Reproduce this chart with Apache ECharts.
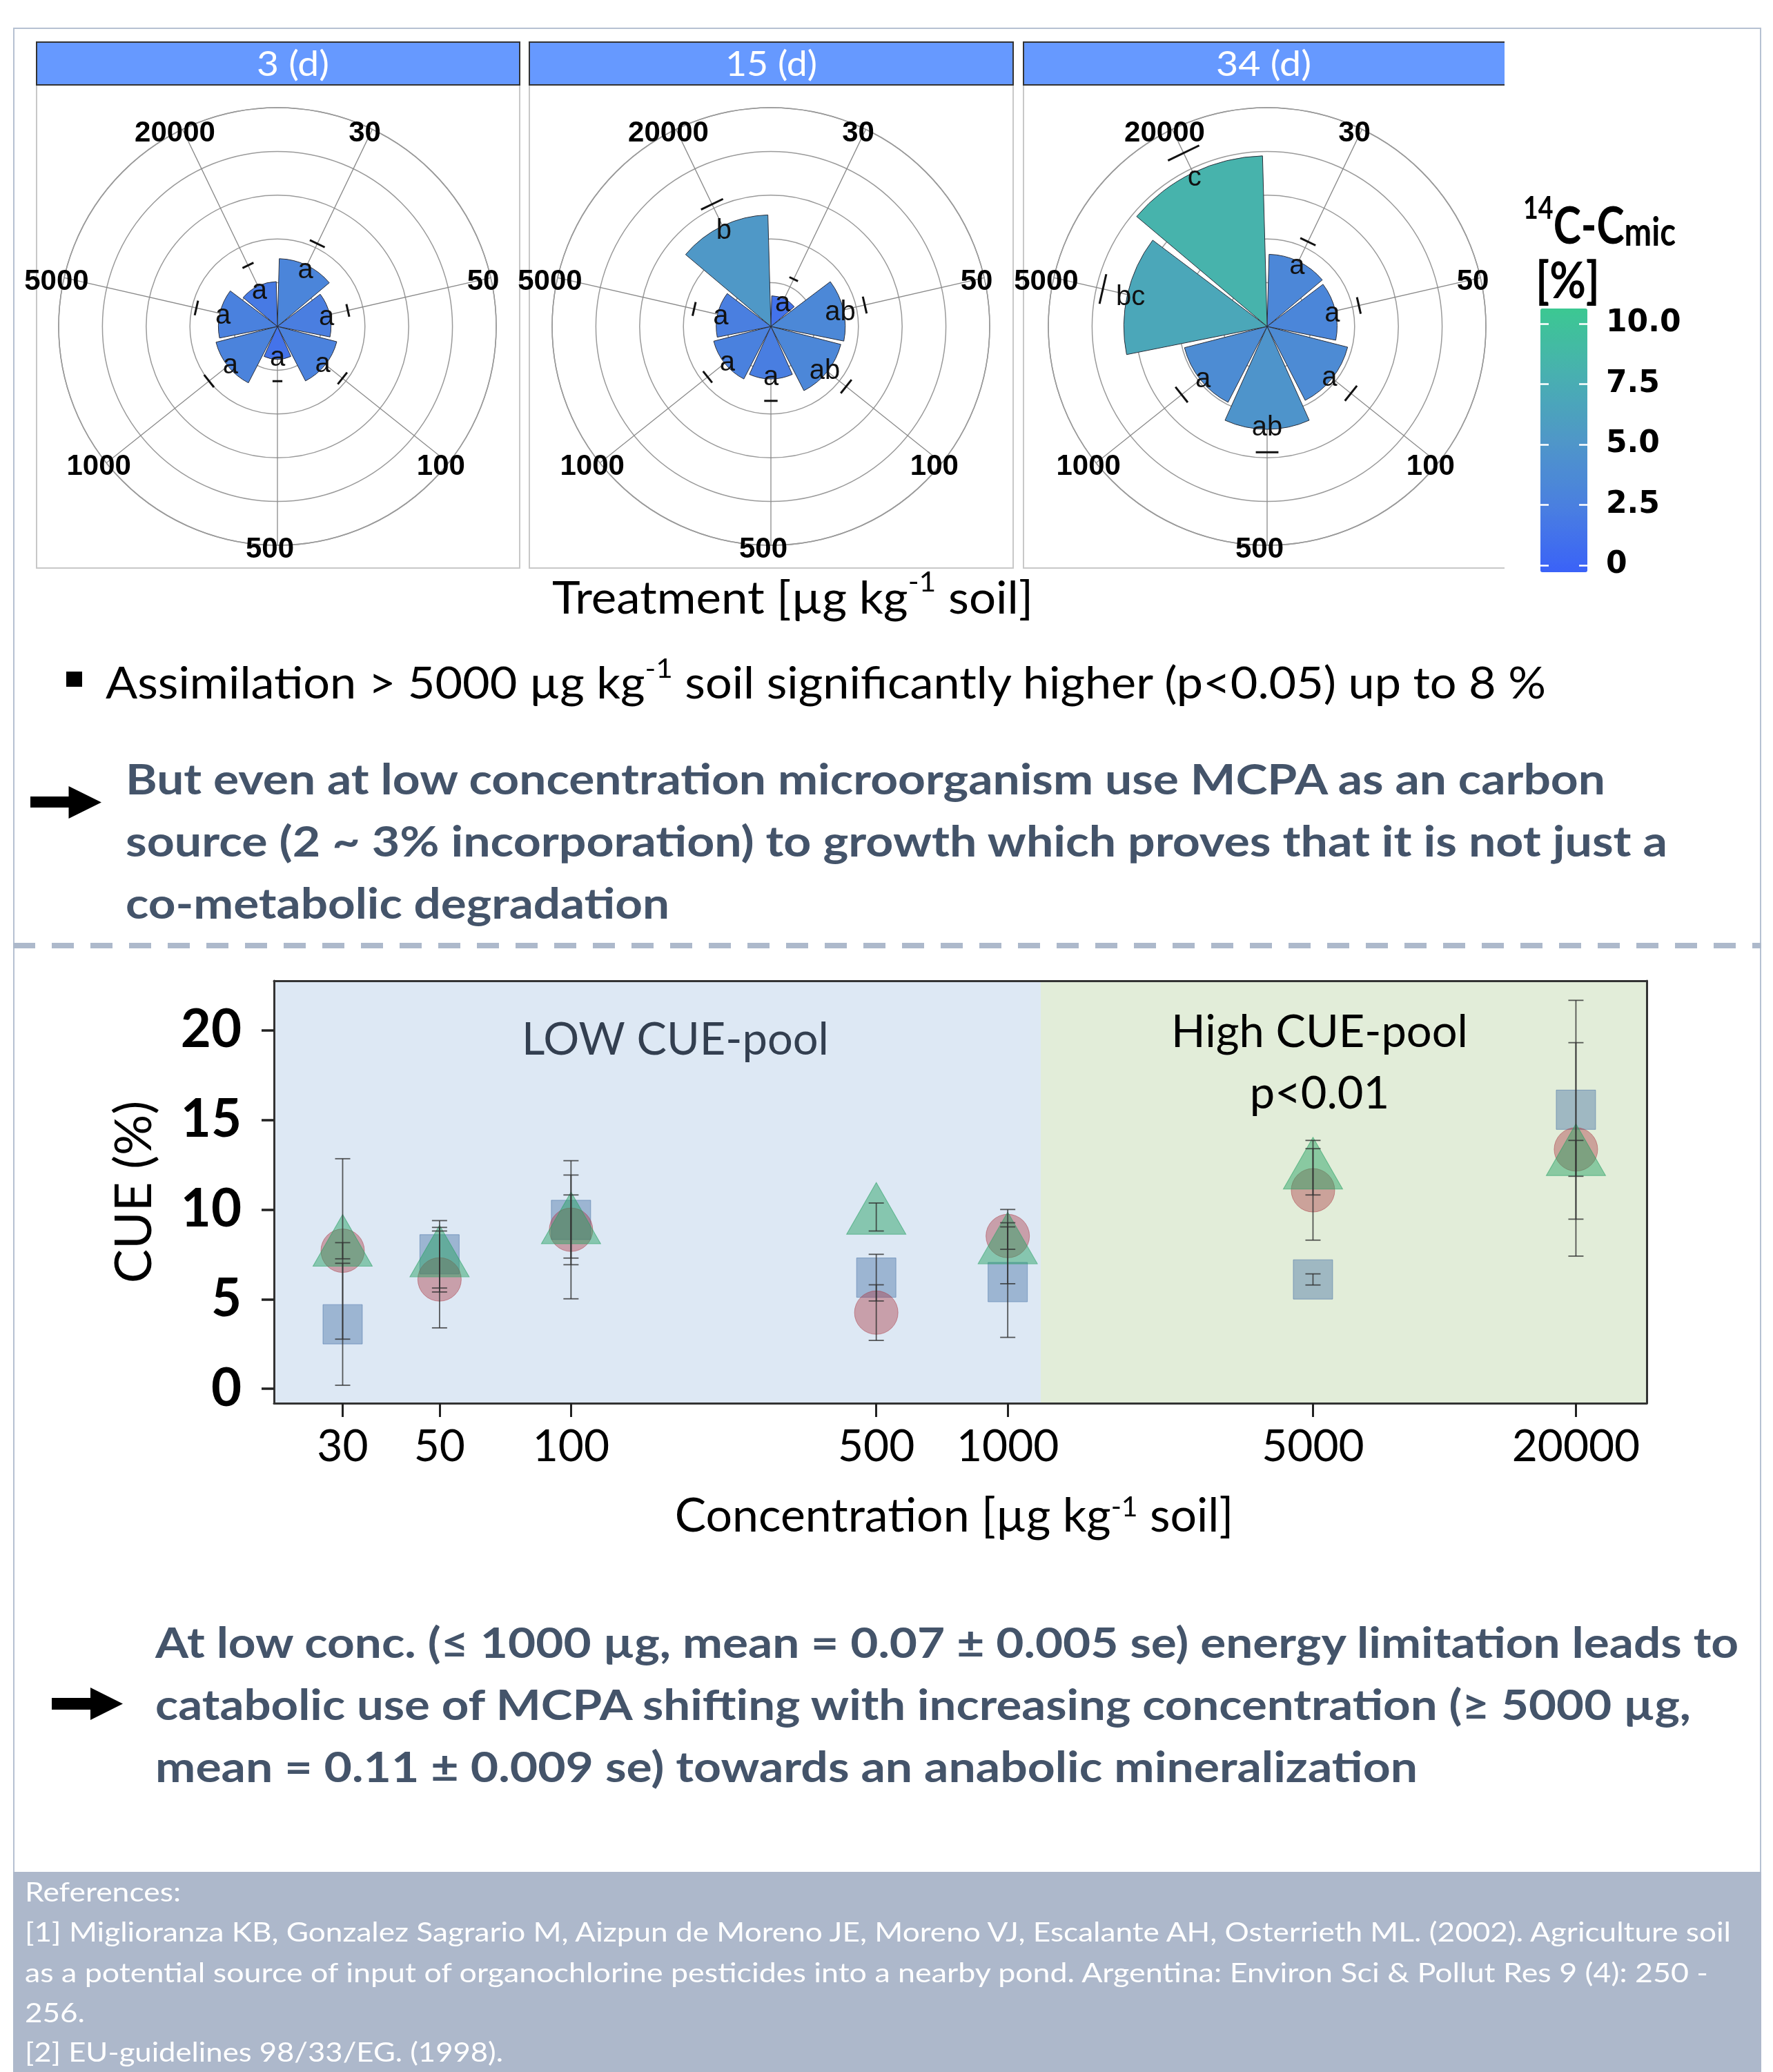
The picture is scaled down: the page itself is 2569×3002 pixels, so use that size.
<!DOCTYPE html>
<html>
<head>
<meta charset="utf-8">
<title>MCPA assimilation and CUE</title>
<script src="https://cdn.jsdelivr.net/npm/echarts@6/dist/echarts.min.js"></script>
<style>
html, body { margin: 0; padding: 0; background: #fff; }
body { width: 2569px; height: 3002px; position: relative; overflow: hidden; font-family: Lato, sans-serif; }
.box { position: absolute; box-sizing: border-box; z-index: 1; }
.t { position: absolute; left: 0; top: 0; white-space: nowrap; line-height: 1; transform-origin: 0 0; z-index: 3; }
.t sup { font-size: 0.62em; position: relative; top: -0.78em; vertical-align: baseline; line-height: 0; }
.para { font-weight: bold; font-size: 62px; color: #44546a; }
.ref { font-size: 38px; color: #fff; }
.head { font-size: 50px; color: #fff; }
#chart { position: absolute; left: 0; top: 0; width: 2569px; height: 3002px; z-index: 2; }
#shapes { position: absolute; left: 0; top: 0; z-index: 3; }
</style>
</head>
<body>
<!-- poster frame, separator, reference box -->
<div class="box" style="left:19px;top:40px;width:2533px;height:2673px;border:2px solid #b6c1d2;border-bottom:none;"></div>
<div class="box" style="left:19px;top:1366px;width:2533px;height:8px;background:repeating-linear-gradient(to right,#adb9cb 0,#adb9cb 32px,transparent 32px,transparent 56px);"></div>
<div class="box" style="left:19px;top:2712px;width:2533px;height:290px;background:#adb8cb;"></div>

<!-- facet boxes and strips -->
<div class="box" style="left:52px;top:122px;width:702px;height:702px;border:2px solid #c8c8c8;border-top:none;"></div>
<div class="box" style="left:766px;top:122px;width:703px;height:702px;border:2px solid #c8c8c8;border-top:none;"></div>
<div class="box" style="left:1482px;top:122px;width:698px;height:702px;border:2px solid #c8c8c8;border-top:none;border-right:none;"></div>
<div class="box" style="left:52px;top:60px;width:702px;height:64px;background:#6699ff;border:2px solid #333;"></div>
<div class="box" style="left:766px;top:60px;width:703px;height:64px;background:#6699ff;border:2px solid #333;"></div>
<div class="box" style="left:1482px;top:60px;width:698px;height:64px;background:#6699ff;border:2px solid #333;border-right:none;"></div>

<div id="chart"></div>

<svg id="shapes" width="2569" height="3002">
  <rect x="96" y="973" width="23" height="22" fill="#000"/>
  <polygon points="44,1154 99.5,1154 99.5,1139 147,1162.5 99.5,1186 99.5,1170 44,1170" fill="#000"/>
  <polygon points="75,2460 131,2460 131,2445 178,2468.5 131,2492 131,2477 75,2477" fill="#000"/>
</svg>

<div class="t head" data-cx="424" data-b="110" data-w="105">3 (d)</div>
<div class="t head" data-cx="1117" data-b="110" data-w="133">15 (d)</div>
<div class="t head" data-cx="1831" data-b="110" data-w="138">34 (d)</div>

<div class="t" data-x="2207" data-b="353" data-w="221" style="font-weight:bold;font-size:74px;color:#000;"><sup>14</sup>C-C<span style="font-size:0.78em;position:relative;top:0.05em;">mic</span></div>
<div class="t" data-x="2225" data-b="432" data-w="93" style="font-weight:bold;font-size:72px;color:#000;">[%]</div>

<div class="t" data-cx="1148" data-b="889" data-w="697" style="font-size:66px;color:#000;">Treatment [µg kg<sup>-1</sup> soil]</div>

<div class="t" data-x="153" data-b="1012" data-w="2087" style="font-size:63px;color:#000;">Assimilation &gt; 5000 µg kg<sup>-1</sup> soil significantly higher (p&lt;0.05) up to 8 %</div>

<div class="t para" data-x="182" data-b="1151" data-w="2144">But even at low concentration microorganism use MCPA as an carbon</div>
<div class="t para" data-x="182" data-b="1241" data-w="2234">source (2 ~ 3% incorporation) to growth which proves that it is not just a</div>
<div class="t para" data-x="182" data-b="1331" data-w="788">co-metabolic degradation</div>

<div class="t para" data-x="225" data-b="2402" data-w="2294">At low conc. (≤ 1000 µg, mean = 0.07 ± 0.005 se) energy limitation leads to</div>
<div class="t para" data-x="225" data-b="2492" data-w="2225">catabolic use of MCPA shifting with increasing concentration (≥ 5000 µg,</div>
<div class="t para" data-x="225" data-b="2582" data-w="1829">mean = 0.11 ± 0.009 se) towards an anabolic mineralization</div>

<div class="t ref" data-x="36" data-b="2755" data-w="226">References:</div>
<div class="t ref" data-x="36" data-b="2813" data-w="2472">[1] Miglioranza KB, Gonzalez Sagrario M, Aizpun de Moreno JE, Moreno VJ, Escalante AH, Osterrieth ML. (2002). Agriculture soil</div>
<div class="t ref" data-x="36" data-b="2872" data-w="2439">as a potential source of input of organochlorine pesticides into a nearby pond. Argentina: Environ Sci &amp; Pollut Res 9 (4): 250 -</div>
<div class="t ref" data-x="36" data-b="2930" data-w="87">256.</div>
<div class="t ref" data-x="36" data-b="2987" data-w="693">[2] EU-guidelines 98/33/EG. (1998).</div>

<script>
// treatments (µg kg-1 soil)
var concLabels = ['30', '50', '100', '500', '1000', '5000', '20000'];
var conc = [30, 50, 100, 500, 1000, 5000, 20000];

// 14C-Cmic [%] per incubation day, with se and significance letters
var cmicDay3 = [3.1, 2.45, 2.8, 1.5, 2.9, 2.7, 2.05];
var cmicDay3Se = [1.1, 0.85, 1.0, 1.0, 1.1, 1.1, 1.05];
var groupsDay3 = ['a', 'a', 'a', 'a', 'a', 'a', 'a'];
var cmicDay15 = [1.4, 3.4, 3.3, 2.4, 2.7, 2.5, 5.1];
var cmicDay15Se = [1.0, 1.0, 1.1, 1.0, 1.0, 1.1, 1.1];
var groupsDay15 = ['a', 'ab', 'ab', 'a', 'a', 'a', 'b'];
var cmicDay34 = [3.3, 3.2, 3.8, 4.7, 3.9, 6.55, 7.8];
var cmicDay34Se = [1.0, 1.1, 1.1, 1.05, 1.1, 1.15, 1.0];
var groupsDay34 = ['a', 'a', 'a', 'ab', 'a', 'bc', 'c'];
var colorTicks = [0, 2.5, 5, 7.5, 10];

// CUE (%) per concentration, three markers with se
var cueSquare = [3.6, 7.5, 9.42, 6.2, 5.95, 6.1, 15.56];
var cueSquareSe = [3.4, 1.88, 2.5, 1.3, 3.08, 0.31, 6.1];
var cueCircle = [7.7, 6.1, 8.87, 4.25, 8.52, 11.07, 13.35];
var cueCircleSe = [0.45, 2.7, 3.85, 1.55, 0.74, 2.78, 5.95];
var cueTriangle = [7.8, 7.2, 9.05, 9.58, 7.93, 12.1, 12.85];
var cueTriangleSe = [5.03, 1.8, 1.76, 0.78, 2.07, 1.29, 1.0];
var cueTicks = [0, 5, 10, 15, 20];
var poolSplit = 1190;

var polarX = [402, 1117, 1836];
var xMin = 1.3199, xMax = 4.4631;

var panels = [
	{ vals : cmicDay3, se : cmicDay3Se, grp : groupsDay3 },
	{ vals : cmicDay15, se : cmicDay15Se, grp : groupsDay15 },
	{ vals : cmicDay34, se : cmicDay34Se, grp : groupsDay34 }
];

var series = [];
panels.forEach(function(p, k) {
	series.push({
		type : 'bar',
		coordinateSystem : 'polar',
		polarIndex : k,
		data : p.vals.map(function(v, i) { return [ v, i ]; }),
		barCategoryGap : '6%',
		itemStyle : { borderColor : '#2b2f3a', borderWidth : 1 },
		z : 2
	});
});
panels.forEach(function(p, k) {
	// spokes under the bars
	series.push({
		type : 'custom',
		coordinateSystem : 'polar',
		polarIndex : k,
		silent : true,
		z : 1,
		data : concLabels.map(function(c, i) { return [ 10, i ]; }),
		renderItem : function(params, api) {
			var c = api.coord([ 0, api.value(1) ]);
			var e = api.coord([ api.value(0), api.value(1) ]);
			return {
				type : 'line',
				shape : { x1 : c[0], y1 : c[1], x2 : e[0], y2 : e[1] },
				style : { stroke : '#8a8a8a', lineWidth : 1.3 }
			};
		}
	});
	// error caps, letters and treatment labels
	series.push({
		type : 'custom',
		coordinateSystem : 'polar',
		polarIndex : k,
		silent : true,
		z : 3,
		data : p.vals.map(function(v, i) { return [ v + p.se[i], i, v ]; }),
		renderItem : function(params, api) {
			var i = api.value(1);
			var c = api.coord([ 0, i ]);
			var top = api.coord([ api.value(0), i ]);
			var mid = api.coord([ api.value(2) - 0.15, i ]);
			var lab = api.coord([ 10, i ]);
			var dx = top[0] - c[0], dy = top[1] - c[1];
			var nx = -dy * 0.09, ny = dx * 0.09;
			return {
				type : 'group',
				children : [ {
					type : 'line',
					shape : { x1 : top[0] - nx, y1 : top[1] - ny, x2 : top[0] + nx, y2 : top[1] + ny },
					style : { stroke : '#111', lineWidth : 3 }
				}, {
					type : 'text',
					style : {
						text : p.grp[params.dataIndex], x : mid[0], y : mid[1] + 3,
						align : 'center', verticalAlign : 'middle',
						fontFamily : 'Liberation Sans', fontSize : 40, fill : '#111'
					}
				}, {
					type : 'text',
					style : {
						text : concLabels[i], x : lab[0] - 11, y : lab[1] + 6,
						align : 'center', verticalAlign : 'middle',
						fontFamily : 'Liberation Sans', fontWeight : 'bold', fontSize : 42, fill : '#000'
					}
				} ]
			};
		}
	});
});

function logPts(vals) {
	return conc.map(function(c, i) { return [ Math.log10(c), vals[i] ]; });
}
function errPts(vals, se) {
	return conc.map(function(c, i) { return [ Math.log10(c), vals[i], se[i] ]; });
}
function renderErr(params, api) {
	var x = api.value(0), m = api.value(1), s = api.value(2);
	var lo = api.coord([ x, m - s ]), hi = api.coord([ x, m + s ]);
	var w = 11;
	var st = { stroke : 'rgba(50,50,50,0.8)', lineWidth : 1.8 };
	return {
		type : 'group',
		children : [
			{ type : 'line', shape : { x1 : lo[0], y1 : lo[1], x2 : hi[0], y2 : hi[1] }, style : st },
			{ type : 'line', shape : { x1 : lo[0] - w, y1 : lo[1], x2 : lo[0] + w, y2 : lo[1] }, style : st },
			{ type : 'line', shape : { x1 : hi[0] - w, y1 : hi[1], x2 : hi[0] + w, y2 : hi[1] }, style : st }
		]
	};
}

series.push({
	type : 'scatter',
	symbol : 'rect',
	symbolSize : 57,
	data : logPts(cueSquare),
	itemStyle : { color : 'rgba(60,105,160,0.5)', borderColor : 'rgba(60,105,160,0.6)', borderWidth : 1 },
	markArea : {
		silent : true,
		data : [ [ {
			name : 'LOW CUE-pool',
			xAxis : xMin,
			itemStyle : { color : '#dde8f4', opacity : 1 },
			label : {
				position : 'insideTop', distance : 54, offset : [ 26, 0 ],
				fontFamily : 'Lato', fontSize : 65, color : '#333f50'
			}
		}, { xAxis : Math.log10(poolSplit) } ], [ {
			name : 'High CUE-pool\np<0.01',
			xAxis : Math.log10(poolSplit),
			itemStyle : { color : '#e2edd9', opacity : 1 },
			label : {
				position : 'insideTop', distance : 31, offset : [ -35, 0 ],
				fontFamily : 'Lato', fontSize : 65, lineHeight : 89, color : '#000'
			}
		}, { xAxis : xMax } ] ]
	}
});
series.push({
	type : 'scatter',
	symbol : 'circle',
	symbolSize : 63,
	data : logPts(cueCircle),
	itemStyle : { color : 'rgba(170,50,60,0.5)', borderColor : 'rgba(170,50,60,0.6)', borderWidth : 1 }
});
series.push({
	type : 'scatter',
	symbol : 'triangle',
	symbolSize : [ 86, 75 ],
	symbolOffset : [ 0, -12.5 ],
	data : logPts(cueTriangle),
	itemStyle : { color : 'rgba(40,160,100,0.6)', borderColor : 'rgba(40,160,100,0.7)', borderWidth : 1 }
});
[ [ cueSquare, cueSquareSe ], [ cueCircle, cueCircleSe ], [ cueTriangle, cueTriangleSe ] ].forEach(function(s) {
	series.push({
		type : 'custom',
		silent : true,
		z : 4,
		data : errPts(s[0], s[1]),
		renderItem : renderErr
	});
});

var logConc = conc.map(function(c) { return Math.log10(c); });
var frame = { show : true, onZero : false, lineStyle : { color : '#333', width : 3 } };

var myChart = echarts.init(document.getElementById('chart'));
var option = {
	animation : false,
	textStyle : { fontFamily : 'Lato' },
	polar : polarX.map(function(x) {
		return { center : [ x, 473 ], radius : 317 };
	}),
	angleAxis : polarX.map(function(x, k) {
		return {
			polarIndex : k,
			type : 'category',
			data : concLabels,
			startAngle : 90,
			clockwise : true,
			axisLine : { show : true, lineStyle : { color : '#9a9a9a', width : 1.5 } },
			axisTick : { show : false },
			axisLabel : { show : false },
			splitLine : { show : false }
		};
	}),
	radiusAxis : polarX.map(function(x, k) {
		return {
			polarIndex : k,
			type : 'value',
			min : 0,
			max : 10,
			interval : 2,
			axisLine : { show : false },
			axisTick : { show : false },
			axisLabel : { show : false },
			splitLine : { show : true, lineStyle : { color : '#9a9a9a', width : 1.5 } }
		};
	}),
	visualMap : {
		type : 'continuous',
		seriesIndex : [ 0, 1, 2 ],
		dimension : 0,
		min : 0,
		max : 10,
		calculable : false,
		padding : 0,
		left : 2232,
		top : 447,
		itemWidth : 68,
		itemHeight : 382,
		inRange : { color : [ '#3a62f8', '#4a7fe0', '#4f97c8', '#48b0b0', '#3cc892' ] }
	},
	grid : [
		{ left : 397, top : 1421, width : 1989, height : 612 },
		{ left : 2232, top : 469, width : 68, height : 350 }
	],
	xAxis : [ {
		gridIndex : 0,
		type : 'value',
		min : xMin,
		max : xMax,
		axisLine : frame,
		axisTick : { show : true, customValues : logConc, length : 20, lineStyle : { color : '#222', width : 3 } },
		axisLabel : {
			customValues : logConc,
			formatter : function(v) { return String(Math.round(Math.pow(10, v))); },
			margin : 31, fontSize : 64, color : '#000', fontFamily : 'Lato'
		},
		splitLine : { show : false },
		name : 'Concentration [µg kg{sup|-1} soil]',
		nameLocation : 'middle',
		nameGap : 130,
		nameTextStyle : {
			fontSize : 68, color : '#000', fontFamily : 'Lato',
			padding : [ 0, 18, 0, 0 ],
			rich : { sup : { fontSize : 41, verticalAlign : 'top', color : '#000', fontFamily : 'Lato' } }
		},
		z : 5
	}, {
		gridIndex : 0,
		type : 'value',
		position : 'top',
		min : xMin,
		max : xMax,
		axisLine : frame,
		axisTick : { show : false },
		axisLabel : { show : false },
		splitLine : { show : false },
		z : 5
	}, {
		gridIndex : 1,
		type : 'value',
		show : false,
		min : 0,
		max : 1
	} ],
	yAxis : [ {
		gridIndex : 0,
		type : 'value',
		min : -0.8,
		max : 22.75,
		axisLine : frame,
		axisTick : { show : true, customValues : cueTicks, length : 18, lineStyle : { color : '#222', width : 3.5 } },
		axisLabel : {
			customValues : cueTicks,
			margin : 47, fontSize : 76, fontWeight : 'bold', color : '#000', fontFamily : 'Lato'
		},
		splitLine : { show : false },
		name : 'CUE (%)',
		nameLocation : 'middle',
		nameGap : 165,
		nameRotate : 90,
		nameTextStyle : { fontSize : 74, color : '#000', fontFamily : 'Lato' },
		z : 5
	}, {
		gridIndex : 0,
		type : 'value',
		position : 'right',
		min : -0.8,
		max : 22.75,
		axisLine : frame,
		axisTick : { show : false },
		axisLabel : { show : false },
		splitLine : { show : false },
		z : 5
	}, {
		gridIndex : 1,
		type : 'value',
		position : 'left',
		min : 0,
		max : 10,
		axisLine : { show : false },
		axisTick : { show : true, inside : true, customValues : colorTicks, length : 12, lineStyle : { color : '#fff', width : 2.5 } },
		axisLabel : { show : false },
		splitLine : { show : false },
		z : 10
	}, {
		gridIndex : 1,
		type : 'value',
		position : 'right',
		min : 0,
		max : 10,
		axisLine : { show : false },
		axisTick : { show : true, inside : true, customValues : colorTicks, length : 12, lineStyle : { color : '#fff', width : 2.5 } },
		axisLabel : {
			customValues : colorTicks,
			margin : 27, fontFamily : 'DejaVu Sans', fontWeight : 'bold', fontSize : 44, color : '#000',
			formatter : function(v) { return v === 0 ? '0' : v.toFixed(1); }
		},
		splitLine : { show : false },
		z : 10
	} ],
	series : series
};
myChart.setOption(option);

// put each text line on its baseline and stretch it to the measured width
function placeText() {
	var items = document.querySelectorAll('.t');
	for (var i = 0; i < items.length; i++) {
		var el = items[i];
		el.style.transform = 'none';
		el.style.left = '0px';
		el.style.top = '0px';
		var mark = el.querySelector('.bl');
		if (!mark) {
			mark = document.createElement('span');
			mark.className = 'bl';
			mark.style.display = 'inline-block';
			el.appendChild(mark);
		}
		var w = el.getBoundingClientRect().width;
		var base = mark.getBoundingClientRect().bottom;
		var tw = el.dataset.w ? +el.dataset.w : w;
		var left = el.dataset.cx ? +el.dataset.cx - tw / 2 : +el.dataset.x;
		el.style.left = left + 'px';
		el.style.top = (+el.dataset.b - base) + 'px';
		el.style.transform = 'scaleX(' + (tw / w) + ')';
	}
}
placeText();
if (document.fonts && document.fonts.ready) {
	document.fonts.ready.then(placeText);
}
</script>
</body>
</html>
